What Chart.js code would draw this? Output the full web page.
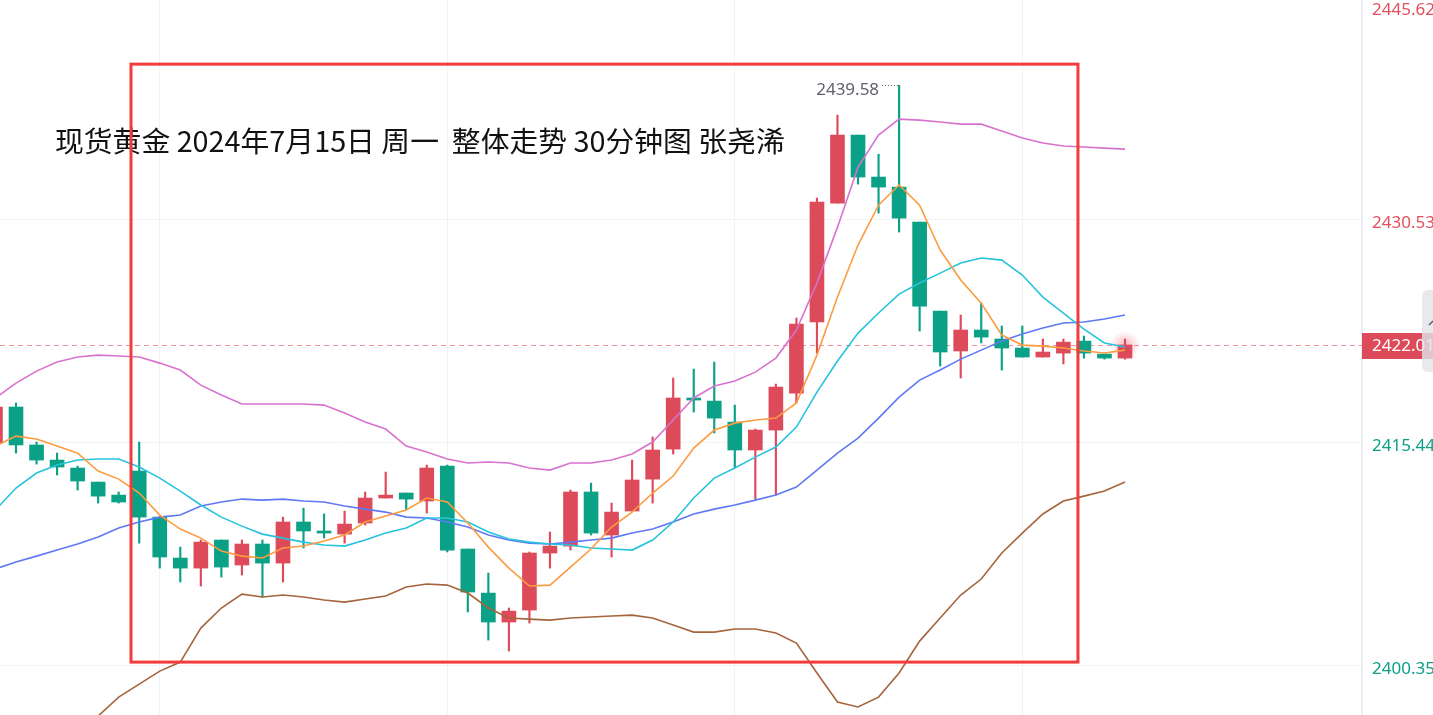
<!DOCTYPE html>
<html>
<head>
<meta charset="utf-8">
<script src="https://cdn.jsdelivr.net/npm/chart.js@4.4.1/dist/chart.umd.min.js"></script>
<style>
html,body{margin:0;padding:0;background:#ffffff;overflow:hidden;}
#wrap{width:1433px;height:715px;position:relative;}
canvas{display:block;}
</style>
</head>
<body>
<div id="wrap"><canvas id="c" width="1433" height="715"></canvas></div>
<script>
// ---------- data (30-min candles, first one partly off the left edge) ----------
const FIRST_INDEX = -1;
const opens  = [2415.37,2417.81,2415.24,2414.22,2413.68,2412.73,2411.85,2413.48,2410.36,2407.59,2406.91,2408.81,2407.12,2408.54,2407.25,2410.03,2409.42,2409.21,2409.96,2411.65,2411.99,2411.45,2413.81,2408.20,2405.22,2403.26,2404.07,2407.93,2408.40,2412.06,2409.15,2410.77,2412.93,2414.96,2418.42,2418.21,2416.79,2414.90,2416.25,2418.75,2423.56,2431.61,2436.21,2433.37,2432.69,2430.32,2424.30,2421.60,2423.02,2422.41,2421.80,2421.19,2421.46,2422.27,2421.39,2421.12];
const highs  = [2417.94,2418.08,2415.44,2414.69,2413.81,2412.73,2412.06,2415.44,2410.36,2408.33,2408.81,2408.81,2408.81,2408.81,2410.36,2410.97,2410.57,2410.77,2412.06,2413.41,2411.99,2413.88,2413.88,2408.20,2406.57,2404.21,2408.00,2409.35,2412.19,2412.66,2411.31,2414.22,2415.78,2419.77,2420.38,2420.85,2417.94,2416.32,2419.36,2423.83,2431.95,2437.56,2436.21,2434.92,2439.58,2430.32,2424.30,2424.03,2424.84,2423.29,2423.29,2422.41,2422.41,2422.61,2421.39,2422.41];
const lows   = [2415.17,2414.69,2413.95,2413.21,2412.19,2411.31,2411.31,2408.60,2406.91,2405.97,2405.70,2406.30,2406.44,2404.95,2405.97,2408.27,2408.94,2408.60,2409.82,2411.65,2410.84,2410.63,2408.00,2403.94,2402.04,2401.30,2403.19,2406.91,2408.13,2409.15,2407.66,2410.77,2411.31,2414.63,2417.47,2416.05,2413.68,2411.58,2411.85,2418.08,2421.46,2431.61,2432.89,2430.93,2429.65,2422.95,2420.58,2419.77,2422.14,2420.31,2421.19,2421.19,2420.72,2421.12,2421.05,2421.05];
const closes = [2417.81,2415.24,2414.22,2413.75,2412.80,2411.78,2411.38,2410.36,2407.66,2406.91,2408.67,2406.98,2408.54,2407.25,2410.03,2409.42,2409.28,2409.89,2411.65,2411.85,2411.58,2413.68,2408.13,2405.29,2403.26,2404.00,2407.93,2408.40,2412.06,2409.28,2410.70,2412.87,2414.90,2418.42,2418.28,2417.06,2414.90,2416.25,2419.16,2423.42,2431.68,2436.21,2433.37,2432.69,2430.59,2424.64,2421.53,2423.02,2422.54,2421.80,2421.19,2421.53,2422.20,2421.46,2421.12,2422.01];

// moving averages / Bollinger bands
const maFast   = [2415.17,2415.84,2415.64,2415.17,2414.69,2413.48,2412.93,2411.99,2410.50,2409.55,2408.94,2408.06,2407.72,2407.59,2408.27,2408.40,2408.74,2409.15,2410.03,2410.43,2410.84,2411.65,2411.38,2409.96,2408.33,2406.91,2405.70,2405.76,2406.98,2408.20,2409.69,2410.70,2411.99,2413.14,2415.03,2416.25,2416.72,2416.93,2417.06,2418.08,2421.32,2425.25,2428.77,2431.47,2432.83,2431.47,2428.43,2426.40,2424.84,2422.68,2422.00,2421.93,2421.80,2421.60,2421.46,2421.66];
const maMid    = [2410.84,2412.33,2413.34,2413.88,2414.22,2414.29,2414.29,2413.75,2413.00,2412.12,2411.18,2410.36,2409.75,2409.21,2408.94,2408.67,2408.47,2408.40,2408.81,2409.28,2409.62,2410.30,2410.30,2410.03,2409.35,2408.88,2408.67,2408.54,2408.47,2408.27,2408.20,2408.13,2408.81,2410.03,2411.65,2413.00,2413.68,2414.42,2415.10,2416.45,2418.82,2420.92,2422.81,2424.17,2425.45,2426.20,2426.87,2427.55,2427.89,2427.75,2426.74,2425.25,2424.17,2423.08,2422.14,2421.87];
const bollMid  = [2406.85,2407.32,2407.72,2408.13,2408.54,2409.01,2409.62,2410.03,2410.36,2410.50,2411.11,2411.38,2411.58,2411.51,2411.58,2411.45,2411.38,2411.11,2410.90,2410.70,2410.36,2410.30,2410.03,2409.69,2409.15,2408.81,2408.60,2408.54,2408.67,2408.81,2408.94,2409.28,2409.55,2410.03,2410.57,2410.90,2411.18,2411.51,2411.85,2412.39,2413.54,2414.69,2415.71,2417.06,2418.48,2419.63,2420.31,2421.05,2421.66,2422.27,2422.75,2423.15,2423.49,2423.56,2423.76,2424.03];
const bollUp   = [2418.42,2419.43,2420.24,2420.85,2421.19,2421.32,2421.26,2421.19,2420.78,2420.31,2419.29,2418.62,2418.01,2418.01,2418.01,2418.01,2417.94,2417.40,2416.79,2416.32,2415.17,2414.76,2414.29,2414.02,2414.09,2414.02,2413.68,2413.54,2414.02,2414.02,2414.22,2414.63,2415.44,2416.93,2418.42,2419.23,2419.57,2420.17,2421.12,2423.02,2426.20,2429.98,2434.04,2436.21,2437.29,2437.22,2437.09,2436.95,2436.95,2436.48,2436.01,2435.67,2435.47,2435.40,2435.33,2435.26];
const bollLow  = [2395.14,2395.14,2395.21,2395.41,2395.82,2396.90,2398.18,2399.06,2399.94,2400.55,2402.85,2404.21,2405.15,2404.95,2405.09,2404.95,2404.75,2404.61,2404.82,2405.02,2405.63,2405.83,2405.76,2405.22,2404.21,2403.53,2403.46,2403.39,2403.53,2403.60,2403.67,2403.73,2403.53,2403.06,2402.58,2402.58,2402.79,2402.79,2402.52,2401.84,2399.81,2397.85,2397.51,2398.18,2399.81,2401.97,2403.53,2405.09,2406.17,2407.93,2409.28,2410.57,2411.45,2411.78,2412.12,2412.73];

const priceTicks   = [2400.35, 2415.44, 2430.53, 2445.62];
const timeGridIdx  = [7, 21, 35, 49];
const currentPrice = 2422.01;
const peakIndex    = 43;
const peakLabel    = "2439.58";
const titleText    = "现货黄金 2024年7月15日 周一  整体走势 30分钟图 张尧浠";
// highlighted box (data coordinates: candle index / price)
const boxRange = {x0: 5.6, x1: 51.71, yTop: 2441.01, yBottom: 2400.55};

// ---------- build ----------
const UP = '#dd4b5a', DOWN = '#0aa187';
const idx = opens.map((_, i) => i + FIRST_INDEX);
const colors = opens.map((o, i) => closes[i] >= o ? UP : DOWN);
const wickData = idx.map((k, i) => ({x: k, y: [lows[i], highs[i]]}));
const bodyData = idx.map((k, i) => ({x: k, y: [opens[i], closes[i]]}));
const lineData = arr => arr.map((v, i) => ({x: idx[i], y: v}));

function lineDs(arr, color){
  return {type:'line', data: lineData(arr), borderColor: color, borderWidth: 1.6,
          pointRadius: 0, tension: 0, fill: false, order: 1};
}

const overlay = {
  id: 'overlay',
  beforeDatasetsDraw(chart){
    const {ctx, chartArea: a, scales: {x, y}} = chart;
    const py = Math.round(y.getPixelForValue(currentPrice)) + 0.5;
    ctx.save();
    ctx.strokeStyle = 'rgba(240,110,125,0.75)';
    ctx.lineWidth = 1;
    ctx.setLineDash([5, 4]);
    ctx.beginPath(); ctx.moveTo(a.left, py); ctx.lineTo(a.right, py); ctx.stroke();
    ctx.setLineDash([]);
    const gx = x.getPixelForValue(idx[idx.length - 1]);
    const g = ctx.createRadialGradient(gx, py, 0, gx, py, 15);
    g.addColorStop(0, 'rgba(242,54,69,0.35)');
    g.addColorStop(1, 'rgba(242,54,69,0)');
    ctx.fillStyle = g;
    ctx.beginPath(); ctx.arc(gx, py, 15, 0, Math.PI * 2); ctx.fill();
    ctx.restore();
  },
  afterDraw(chart){
    const {ctx, chartArea: a, scales: {x, y}} = chart;
    ctx.save();
    // title
    ctx.fillStyle = '#111111';
    ctx.font = '28.8px "Noto Sans CJK SC", sans-serif';
    ctx.textBaseline = 'middle';
    ctx.textAlign = 'left';
    ctx.fillText(titleText, 55, 141);

    // peak label
    const hx = x.getPixelForValue(peakIndex);
    const hy = Math.round(y.getPixelForValue(highs[peakIndex - FIRST_INDEX])) + 0.5;
    ctx.font = '17px "Noto Sans", sans-serif';
    ctx.fillStyle = '#5f626e';
    ctx.textAlign = 'right';
    ctx.fillText(peakLabel, hx - 20, hy + 5);
    ctx.strokeStyle = '#5f626e';
    ctx.lineWidth = 1;
    ctx.setLineDash([1, 2]);
    ctx.beginPath(); ctx.moveTo(hx - 17, hy); ctx.lineTo(hx, hy); ctx.stroke();
    ctx.setLineDash([]);

    // red highlight box
    ctx.strokeStyle = '#f23b3b';
    ctx.lineWidth = 3;
    const bx0 = x.getPixelForValue(boxRange.x0), bx1 = x.getPixelForValue(boxRange.x1);
    const by0 = y.getPixelForValue(boxRange.yTop), by1 = y.getPixelForValue(boxRange.yBottom);
    ctx.strokeRect(bx0, by0, bx1 - bx0, by1 - by0);

    // price axis labels
    ctx.font = '17px "Noto Sans", sans-serif';
    ctx.textAlign = 'left';
    ctx.textBaseline = 'middle';
    const lx = a.right + 10;
    priceTicks.forEach(v => {
      let py = y.getPixelForValue(v) + 4;
      if (py < 10) py = 10;
      ctx.fillStyle = v > currentPrice ? '#e24f5d' : '#0c9f86';
      ctx.fillText(v.toFixed(2), lx, py);
    });
    // current price box
    const cy = y.getPixelForValue(currentPrice);
    ctx.fillStyle = '#dd4b5a';
    ctx.fillRect(a.right, Math.round(cy) - 12, 1433 - a.right, 26);
    ctx.fillStyle = '#ffffff';
    ctx.fillText(currentPrice.toFixed(2), lx, cy + 1);

    // collapsed side button
    ctx.fillStyle = 'rgba(226,227,233,0.8)';
    ctx.beginPath();
    ctx.roundRect(1422, 290, 24, 82, 6);
    ctx.fill();
    ctx.strokeStyle = '#555b6a';
    ctx.lineWidth = 1.5;
    ctx.beginPath(); ctx.moveTo(1433, 321); ctx.lineTo(1429, 325); ctx.stroke();
    ctx.restore();
  }
};

new Chart(document.getElementById('c'), {
  type: 'bar',
  data: {
    datasets: [
      lineDs(maFast, '#fb9c40'),
      lineDs(maMid, '#26c3dd'),
      lineDs(bollMid, '#5f78f4'),
      lineDs(bollUp, '#d772cf'),
      lineDs(bollLow, '#a5643c'),
      {type: 'bar', data: wickData, backgroundColor: colors, barThickness: 1.5, grouped: false,
       borderWidth: 0, order: 10, minBarLength: 1},
      {type: 'bar', data: bodyData, backgroundColor: colors, barThickness: 14, grouped: false,
       borderWidth: 0, order: 9, minBarLength: 1}
    ]
  },
  options: {
    responsive: false,
    animation: false,
    events: [],
    layout: {padding: 0},
    plugins: {legend: {display: false}, tooltip: {enabled: false}, title: {display: false}},
    scales: {
      x: {
        type: 'linear', min: -0.779, max: 65.54, offset: false,
        afterBuildTicks: s => { s.ticks = timeGridIdx.map(v => ({value: v})); },
        afterFit: s => { s.height = 0; },
        ticks: {display: false},
        grid: {color: '#f2f3f7', drawTicks: false, lineWidth: 1, offset: false},
        border: {display: false}
      },
      y: {
        position: 'right', min: 2396.97, max: 2445.35,
        afterBuildTicks: s => { s.ticks = priceTicks.filter(v => v <= s.max).map(v => ({value: v})); },
        afterFit: s => { s.width = 71; },
        ticks: {display: false},
        grid: {color: '#f2f3f7', drawTicks: false, lineWidth: 1, offset: false},
        border: {display: true, color: '#eceef3', width: 2}
      }
    }
  },
  plugins: [overlay]
});
</script>
</body>
</html>
